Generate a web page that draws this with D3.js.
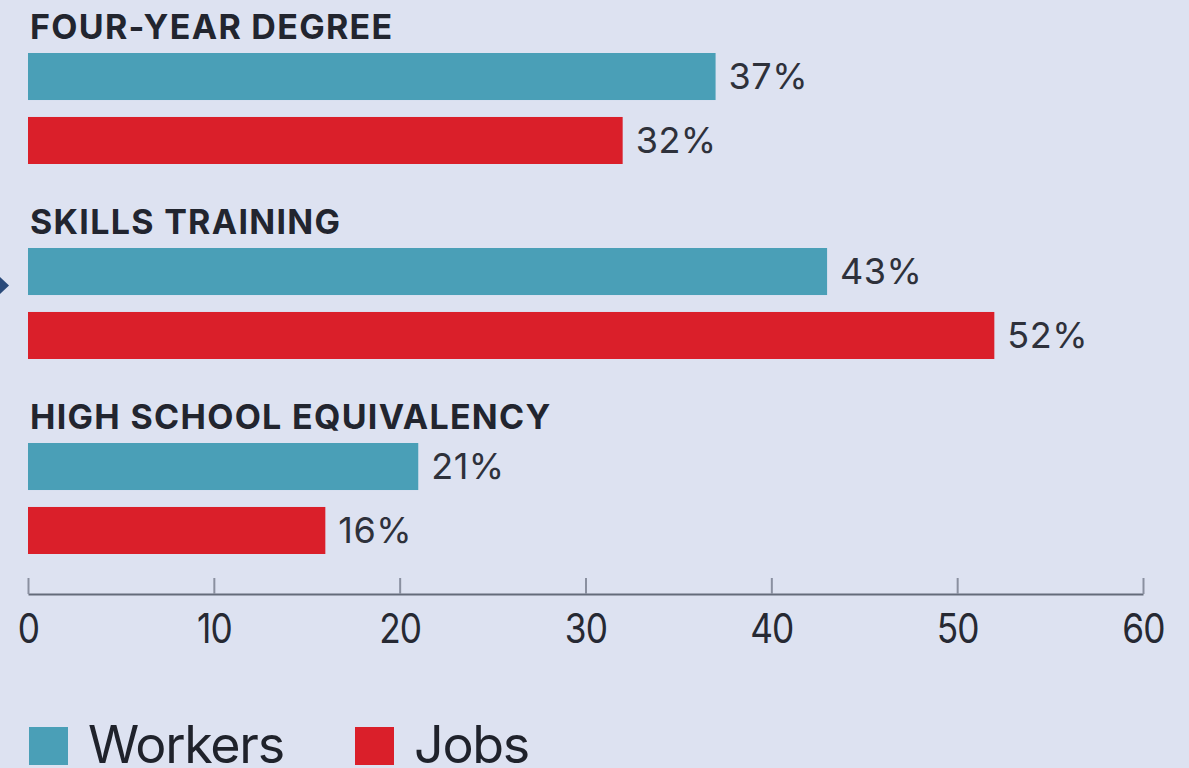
<!DOCTYPE html>
<html>
<head>
<meta charset="utf-8">
<script src="https://cdn.jsdelivr.net/npm/d3@7"></script>
<style>
  html, body { margin: 0; padding: 0; background: #dde2f1; }
  svg { display: block; }
  text { font-family: Inter, Roboto, "Noto Sans", sans-serif; }
</style>
</head>
<body>
<svg id="chart" width="1189" height="768"></svg>
<script>
// Share of workers vs. jobs by education / training requirement
const categories = ["FOUR-YEAR DEGREE", "SKILLS TRAINING", "HIGH SCHOOL EQUIVALENCY"];
const series = ["Workers", "Jobs"];
const workers = [37, 43, 21];
const jobs = [32, 52, 16];
const xTicks = [0, 10, 20, 30, 40, 50, 60];
const colors = { Workers: "#4a9fb7", Jobs: "#da1f2a" };

const svg = d3.select("#chart");

const x = d3.scaleLinear().domain([0, 60]).range([28, 1143]);

// each category: a label row followed by two bars; categories stacked vertically
const groupY = d3.scaleBand().domain(categories).range([0, 585]);
const barY = d3.scaleBand().domain(series).range([53, 164]).paddingInner(0.265);

const rows = categories.map((c, i) => ({ cat: c, Workers: workers[i], Jobs: jobs[i] }));

const groups = svg.selectAll("g.group")
  .data(rows)
  .join("g")
  .attr("class", "group")
  .attr("transform", d => `translate(0, ${groupY(d.cat)})`);

groups.append("text")
  .attr("x", 30)
  .attr("y", 39)
  .attr("fill", "#22252f")
  .attr("font-size", 34)
  .attr("font-weight", 700)
  .attr("letter-spacing", 1.3)
  .text(d => d.cat);

groups.selectAll("rect")
  .data(d => series.map(s => ({ s, v: d[s] })))
  .join("rect")
  .attr("x", x(0))
  .attr("y", d => barY(d.s))
  .attr("width", d => x(d.v) - x(0))
  .attr("height", barY.bandwidth())
  .attr("fill", d => colors[d.s]);

groups.selectAll("text.val")
  .data(d => series.map(s => ({ s, v: d[s] })))
  .join("text")
  .attr("class", "val")
  .attr("x", d => x(d.v) + 13)
  .attr("y", d => barY(d.s) + barY.bandwidth() / 2)
  .attr("dy", "0.36em")
  .attr("fill", "#2e313b")
  .attr("font-size", 36)
  .attr("letter-spacing", 0.5)
  .text(d => d.v + "%");

// small pointer at the left edge
svg.append("path")
  .attr("d", "M0,277 L9,285.5 L0,294 Z")
  .attr("fill", "#2a4a7a");

// x axis with upward ticks
const axisY = 594;
const axis = svg.append("g")
  .attr("transform", `translate(0, ${axisY})`)
  .call(d3.axisBottom(x).tickValues(xTicks).tickSizeInner(-16).tickSizeOuter(0).tickPadding(0));
axis.select(".domain").attr("stroke", "#646b7a").attr("stroke-width", 2);
axis.selectAll(".tick line").attr("stroke", "#8a90a0").attr("stroke-width", 2);
axis.selectAll(".tick text")
  .attr("y", null)
  .attr("dy", null)
  .attr("transform", `translate(0, ${643 - axisY}) scale(0.86, 1)`)
  .attr("fill", "#262933")
  .attr("font-size", 41)
  .attr("letter-spacing", -1)
  .attr("font-family", "Inter, Roboto, sans-serif");

// legend
const legend = svg.append("g").attr("transform", "translate(0, 727)");
const legendX = [29, 355];
series.forEach((s, i) => {
  legend.append("rect")
    .attr("x", legendX[i])
    .attr("y", 0)
    .attr("width", 39)
    .attr("height", 38)
    .attr("fill", colors[s]);
  legend.append("text")
    .attr("x", legendX[i] + 59)
    .attr("y", 36)
    .attr("fill", "#1f222b")
    .attr("font-size", 52)
    .attr("letter-spacing", -1.3)
    .text(s);
});
</script>
</body>
</html>
